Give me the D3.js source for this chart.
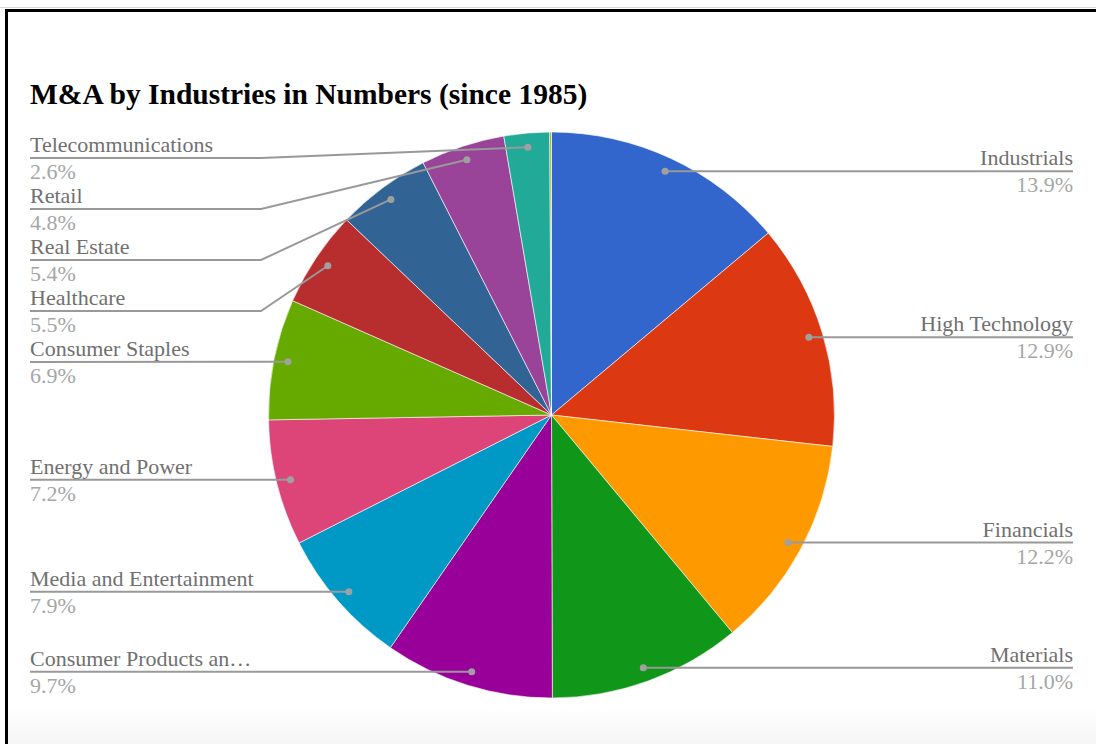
<!DOCTYPE html>
<html>
<head>
<meta charset="utf-8">
<script src="https://cdn.jsdelivr.net/npm/d3@7"></script>
<style>
  html, body { margin: 0; padding: 0; background: #fff; }
  svg { display: block; }
</style>
</head>
<body>
<svg id="chart" width="1096" height="744"></svg>
<script>
// ---- data ----
const title = "M&A by Industries in Numbers (since 1985)";
const categories = [
  "Industrials", "High Technology", "Financials", "Materials",
  "Consumer Products and Services", "Media and Entertainment", "Energy and Power",
  "Consumer Staples", "Healthcare", "Real Estate", "Retail", "Telecommunications",
  "Government and Agencies"
];
const values = [13.9, 12.9, 12.2, 11.0, 9.7, 7.9, 7.2, 6.9, 5.5, 5.4, 4.8, 2.6, 0.1];
const colors = [
  "#3366cc", "#dc3912", "#ff9900", "#109618", "#990099", "#0099c6", "#dd4477",
  "#66aa00", "#b82e2e", "#316395", "#994499", "#22aa99", "#aaaa11"
];

// ---- layout ----
const W = 1096, H = 744;
const cx = 551.5, cy = 415, R = 283;
const leftX = 30, rightX = 1073, bendX = 261;
const labelMinY = 158, labelGap = 51, labelMaxW = 228;
const fontFamily = "'Liberation Serif', 'Times New Roman', serif";

const svg = d3.select("#chart");

// page background with faint bottom shading
const defs = svg.append("defs");
const grad = defs.append("linearGradient").attr("id", "bottomShade")
  .attr("x1", 0).attr("y1", 0).attr("x2", 0).attr("y2", 1);
grad.append("stop").attr("offset", "0%").attr("stop-color", "#ffffff");
grad.append("stop").attr("offset", "100%").attr("stop-color", "#f5f5f5");
svg.append("rect").attr("x", 0).attr("y", 0).attr("width", W).attr("height", H).attr("fill", "#fff");
svg.append("rect").attr("x", 8).attr("y", 708).attr("width", W - 8).attr("height", H - 708)
  .attr("fill", "url(#bottomShade)");

// frame
svg.append("line").attr("x1", 0).attr("x2", W).attr("y1", 7.5).attr("y2", 7.5)
  .attr("stroke", "#d8d8d8").attr("stroke-width", 1);
svg.append("line").attr("x1", 5).attr("x2", W).attr("y1", 10.5).attr("y2", 10.5)
  .attr("stroke", "#000").attr("stroke-width", 3);
svg.append("line").attr("x1", 6.5).attr("x2", 6.5).attr("y1", 9).attr("y2", H)
  .attr("stroke", "#000").attr("stroke-width", 3);

// title
svg.append("text")
  .attr("x", leftX).attr("y", 104)
  .attr("font-family", fontFamily).attr("font-weight", "bold")
  .attr("font-size", 29.5).attr("fill", "#000")
  .text(title);

const data = categories.map((c, i) => ({ name: c, value: values[i], color: colors[i] }));
const total = d3.sum(values);
const pct = d3.format(".1%");

const pie = d3.pie().sort(null).value(d => d.value).startAngle(0).endAngle(2 * Math.PI);
const arcs = pie(data);
const arc = d3.arc().innerRadius(0).outerRadius(R);

const g = svg.append("g").attr("transform", `translate(${cx},${cy})`);
g.selectAll("path.slice").data(arcs).join("path")
  .attr("class", "slice")
  .attr("d", arc)
  .attr("fill", d => d.data.color)
  .attr("stroke", "#fff").attr("stroke-width", 0.6);

// labels (skip slices below the visibility threshold)
const dotR = R * 0.95;
const labeled = arcs.filter(a => a.data.value / total >= 0.01).map(a => {
  const mid = (a.startAngle + a.endAngle) / 2;
  return {
    a, mid,
    dx: cx + dotR * Math.sin(mid),
    dy: cy - dotR * Math.cos(mid),
    side: mid < Math.PI ? "right" : "left"
  };
});

// stack left labels top-down
const lefts = labeled.filter(l => l.side === "left").sort((p, q) => p.dy - q.dy);
let prev = -Infinity;
lefts.forEach(l => {
  l.ly = Math.max(l.dy, labelMinY, prev + labelGap);
  prev = l.ly;
});
labeled.filter(l => l.side === "right").forEach(l => { l.ly = l.dy; });

const lg = svg.append("g");
const lineColor = "#999";

labeled.forEach(l => {
  let pts;
  if (l.side === "left") {
    pts = Math.abs(l.ly - l.dy) > 0.5
      ? [[leftX, l.ly], [bendX, l.ly], [l.dx, l.dy]]
      : [[leftX, l.ly], [l.dx, l.dy]];
  } else {
    pts = [[l.dx, l.dy], [rightX, l.ly]];
  }
  lg.append("path")
    .attr("d", d3.line()(pts))
    .attr("fill", "none").attr("stroke", lineColor).attr("stroke-width", 2);
  lg.append("circle").attr("cx", l.dx).attr("cy", l.dy).attr("r", 3.5).attr("fill", "#a0a0a0");

  const x = l.side === "left" ? leftX : rightX;
  const anchor = l.side === "left" ? "start" : "end";
  const nameT = lg.append("text")
    .attr("x", x).attr("y", l.ly - 6)
    .attr("text-anchor", anchor)
    .attr("font-family", fontFamily).attr("font-size", 22)
    .attr("fill", "#707070")
    .text(l.a.data.name);
  // truncate long names with an ellipsis
  let s = l.a.data.name;
  if (nameT.node().getComputedTextLength() > labelMaxW) {
    while (s.length > 1) {
      s = s.slice(0, -1);
      nameT.text(s.trimEnd() + "\u2026");
      if (nameT.node().getComputedTextLength() <= labelMaxW) break;
    }
    nameT.text(s + "\u2026");
  }
  lg.append("text")
    .attr("x", x).attr("y", l.ly + 21)
    .attr("text-anchor", anchor)
    .attr("font-family", fontFamily).attr("font-size", 22)
    .attr("fill", "#a6a6a6")
    .text(pct(l.a.data.value / total));
});
</script>
</body>
</html>
